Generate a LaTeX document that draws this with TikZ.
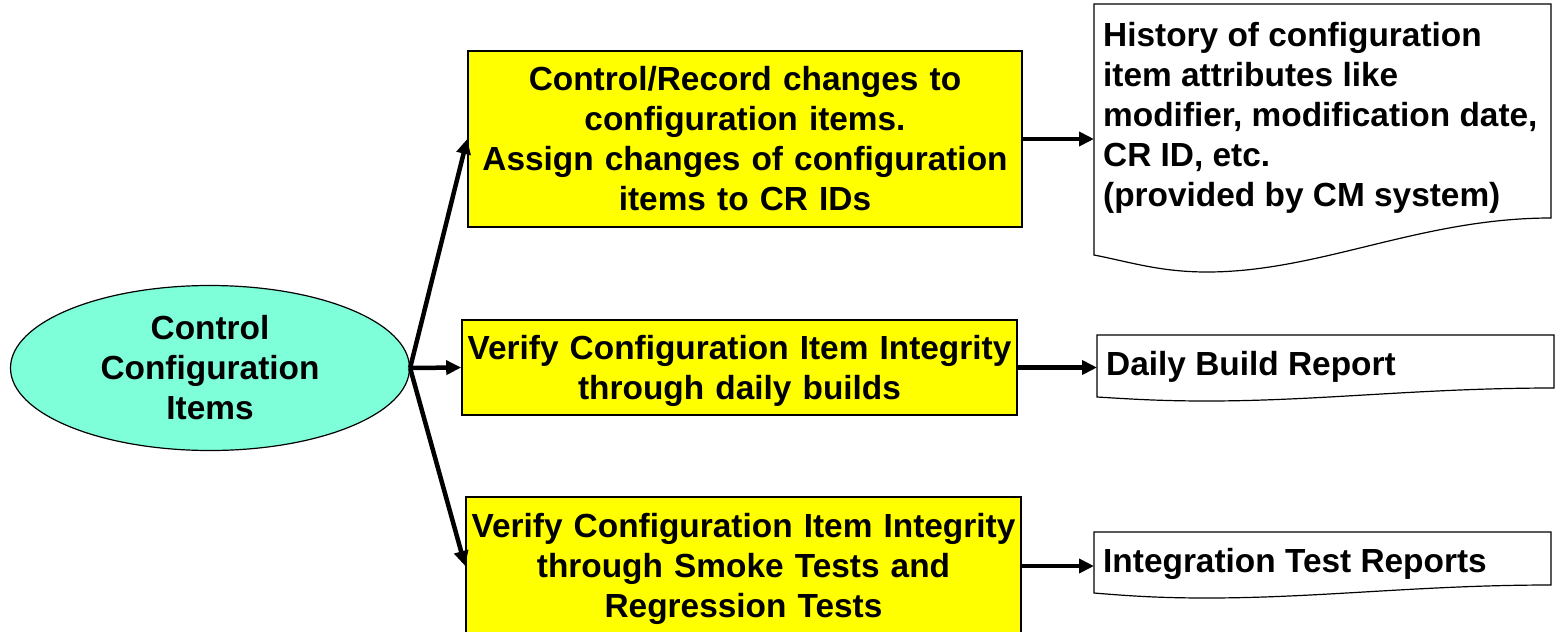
\documentclass[tikz,border=0pt]{standalone}
\usepackage{fontspec}
\setmainfont{Liberation Sans}
\usetikzlibrary{arrows.meta,shapes.geometric}
\definecolor{aqua}{HTML}{7FFFD9}
\definecolor{ybox}{HTML}{FFFF00}
\tikzset{
  txt/.style={font=\fontsize{33.4}{40}\selectfont\bfseries},
  ybox/.style={txt, draw=black, line width=1.6pt, fill=ybox, align=center, inner sep=0pt},
  oval/.style={txt, ellipse, draw=black, line width=1.2pt, fill=aqua, align=center, inner sep=0pt, minimum width=399pt, minimum height=165pt},
  doctext/.style={txt, align=left, inner xsep=9pt, inner ysep=0pt, anchor=west},
  docline/.style={draw=black, line width=1.2pt, fill=white},
  conn/.style={line width=4.5pt, -{Triangle[length=15pt,width=14pt]}}
}
\begin{document}
\begin{tikzpicture}[x=1pt,y=-1pt]
\useasboundingbox (0,0) rectangle (1556,632);
% document outlines
\draw[docline] (1094,4) -- (1551,4) -- (1551,218)
  .. controls (1420,218) and (1320,272) .. (1207,272)
  .. controls (1160,272) and (1130,262) .. (1094,255) -- cycle;
\draw[docline] (1097,335) -- (1554,335) -- (1554,388)
  .. controls (1420,388) and (1320,401) .. (1207,401)
  .. controls (1160,401) and (1130,399) .. (1097,397) -- cycle;
\draw[docline] (1094,532) -- (1551,532) -- (1551,585)
  .. controls (1420,585) and (1320,598) .. (1207,598)
  .. controls (1160,598) and (1130,596) .. (1094,593) -- cycle;
% nodes
\node[oval] (e) at (210,368) {Control\\Configuration\\Items};
\node[ybox, minimum width=554pt, minimum height=176pt, text width=544pt] (b1) at (745,139)
  {Control/Record changes to\\configuration items.\\Assign changes of configuration\\items to CR IDs};
\node[ybox, minimum width=555pt, minimum height=95pt, text width=545pt] (b2) at (739.5,367.5)
  {\rule{0pt}{32pt}Verify Configuration Item Integrity\\through daily builds};
\node[ybox, minimum width=555pt, minimum height=138pt, text width=545pt] (b3) at (743.5,566)
  {\rule{0pt}{30pt}Verify Configuration Item Integrity\\through Smoke Tests and\\Regression Tests};
\node[doctext] (d1) at (1094,118) {History of configuration\\item attributes like\\modifier, modification date,\\CR ID, etc.\\(provided by CM system)};
\node[doctext] (d2) at (1097,367) {Daily Build Report};
\node[doctext] (d3) at (1094,564) {Integration Test Reports};
% connectors
\draw[conn] (e.east) -- (b1.west);
\draw[conn] (e.east) -- (b2.west);
\draw[conn] (e.east) -- (b3.west);
\draw[conn] (b1.east) -- (b1.east -| d1.west);
\draw[conn] (b2.east) -- (b2.east -| d2.west);
\draw[conn] (b3.east) -- (b3.east -| d3.west);
\end{tikzpicture}
\end{document}
